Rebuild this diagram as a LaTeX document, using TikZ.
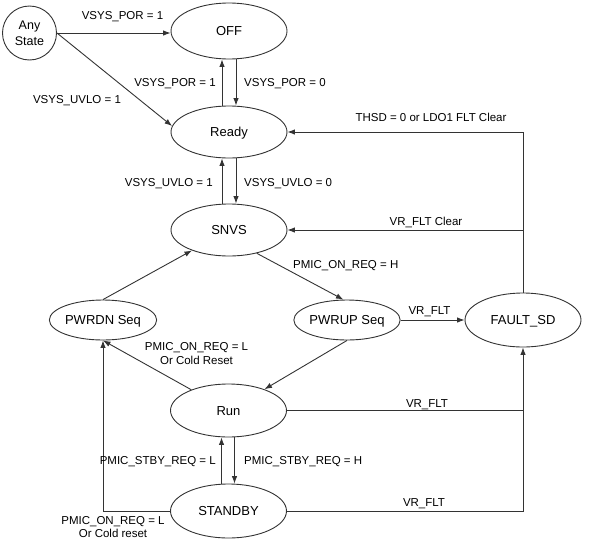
\documentclass[tikz,border=0pt]{standalone}
\usepackage{fontspec}
\setmainfont{Liberation Sans}
\usetikzlibrary{arrows.meta,shapes.geometric}
\tikzset{
  stline/.style={draw=black!80, line width=0.9pt},
  state/.style={stline, ellipse, inner sep=0pt, font=\fontsize{13}{15}\selectfont, text height=9.3pt, text depth=0pt},
  conn/.style={stline, -{Latex[length=7.5pt,width=5.5pt]}},
  wire/.style={stline},
  lbl/.style={inner sep=0pt, font=\fontsize{11.5}{13.5}\selectfont, text height=8.2pt, text depth=0pt},
  lbltwo/.style={inner sep=0pt, align=center, font=\fontsize{11.5}{13.5}\selectfont},
}
\begin{document}
\begin{tikzpicture}[x=1pt,y=-1pt]
\useasboundingbox (0,0) rectangle (596,541);
% states
\node[stline, circle, minimum size=54pt, inner sep=0pt, align=center, font=\fontsize{12.5}{16}\selectfont] (any) at (29.5,33) {Any\\State};
\node[state, minimum width=116pt, minimum height=56pt] (off) at (229,31) {OFF};
\node[state, minimum width=116pt, minimum height=52pt] (ready) at (229,132) {Ready};
\node[state, minimum width=116pt, minimum height=52pt] (snvs) at (229,230) {SNVS};
\node[state, minimum width=100pt, minimum height=40pt] (pwrdn) at (103,320) {PWRDN Seq};
\node[state, minimum width=100pt, minimum height=40pt] (pwrup) at (347,320) {PWRUP Seq};
\node[state, minimum width=116pt, minimum height=54pt] (fault) at (523,320) {FAULT\_SD};
\node[state, minimum width=116pt, minimum height=53pt] (run) at (228.5,410.5) {Run};
\node[state, minimum width=116pt, minimum height=54pt] (standby) at (228.5,511) {STANDBY};
% helper coordinates
\coordinate (j1) at (fault.north |- snvs.east);
\coordinate (j2) at (run.east -| fault.south);
% connectors
\draw[conn] (any.east) -- (any.east -| off.west);
\draw[conn] (any.east) -- (ready.174);
\draw[conn] ([xshift=-7pt]ready.north) -- ([xshift=-7pt]off.south);
\draw[conn] ([xshift=7pt]off.south) -- ([xshift=7pt]ready.north);
\draw[conn] ([xshift=-7pt]snvs.north) -- ([xshift=-7pt]ready.south);
\draw[conn] ([xshift=7pt]ready.south) -- ([xshift=7pt]snvs.north);
\draw[conn] (fault.north) |- (ready.east);
\draw[conn] (j1) -- (snvs.east);
\draw[conn] (pwrdn.north) -- (snvs);
\draw[conn] (snvs.-40) -- (pwrup.100);
\draw[conn] (pwrup.east) -- (fault.west);
\draw[conn] (pwrup.south) -- (run);
\draw[conn] (run) -- (pwrdn.south);
\draw[wire] (run.east) -- (j2);
\draw[conn] (standby.east) -| (fault.south);
\draw[conn] (standby.west) -| (pwrdn.south);
\draw[conn] ([xshift=-7pt]standby.north) -- ([xshift=-7pt]run.south);
\draw[conn] ([xshift=6pt]run.south) -- ([xshift=6pt]standby.north);
% labels
\node[lbl] (l1) at (122.5,15) {VSYS\_POR = 1};
\node[lbl] (l2) at (77,99) {VSYS\_UVLO = 1};
\node[lbl, anchor=east] (l3) at (216,82) {VSYS\_POR = 1};
\node[lbl, anchor=west] (l4) at (244,82) {VSYS\_POR = 0};
\node[lbl] (l5) at (431,117) {THSD = 0 or LDO1 FLT Clear};
\node[lbl, anchor=east] (l6) at (213,182) {VSYS\_UVLO = 1};
\node[lbl, anchor=west] (l7) at (244,182) {VSYS\_UVLO = 0};
\node[lbl] (l8) at (426,221) {VR\_FLT Clear};
\node[lbl, anchor=west] (l9) at (293,264) {PMIC\_ON\_REQ = H};
\node[lbl] (l10) at (429.5,310) {VR\_FLT};
\node[lbltwo] (l11) at (196.5,353.5) {PMIC\_ON\_REQ = L\\Or Cold Reset};
\node[lbl] (l12) at (427,403) {VR\_FLT};
\node[lbl, anchor=east] (l13) at (216,460.5) {PMIC\_STBY\_REQ = L};
\node[lbl, anchor=west] (l14) at (244,460.5) {PMIC\_STBY\_REQ = H};
\node[lbl] (l15) at (424,502) {VR\_FLT};
\node[lbltwo] (l16) at (113,527) {PMIC\_ON\_REQ = L\\Or Cold reset};
\end{tikzpicture}
\end{document}
